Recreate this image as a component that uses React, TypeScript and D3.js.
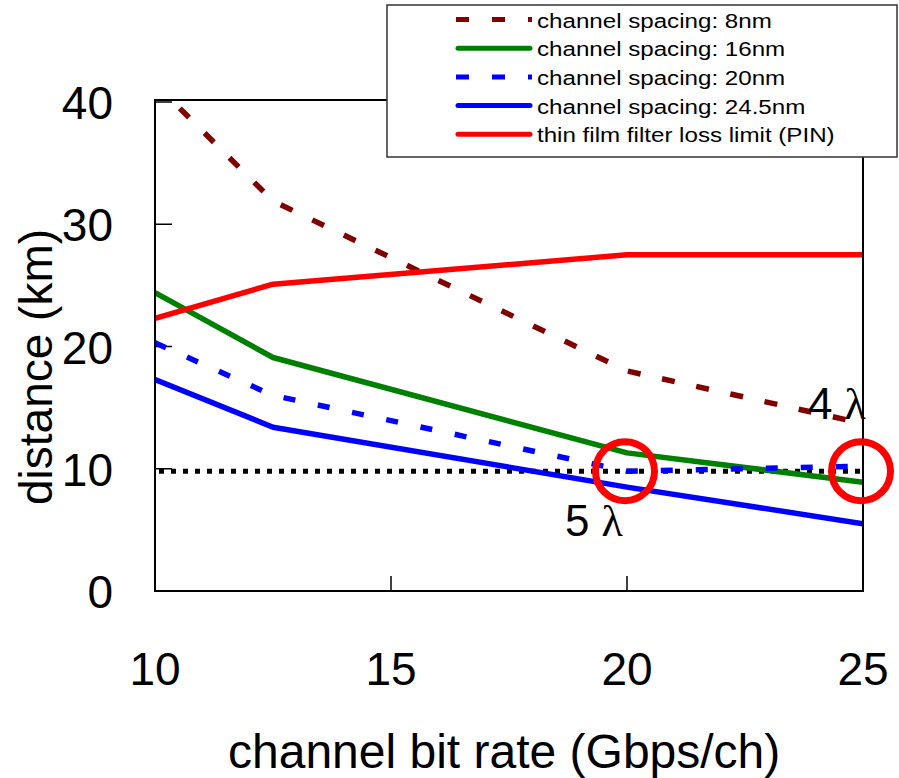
import React from "react";
import * as d3 from "d3";

const rates = [10, 12.5, 20, 25];
const spacing8 = [41.5, 31.9, 18.0, 13.7];
const spacing16 = [24.4, 19.1, 11.3, 8.9];
const spacing20 = [20.3, 16.0, 9.8, 10.2];
const spacing245 = [17.3, 13.4, 8.5, 5.5];
const filterLimit = [22.3, 25.1, 27.5, 27.5];
const reachLimit = 9.8;
const xTicks = [10, 15, 20, 25];
const yTicks = [0, 10, 20, 30, 40];
const circleMarks: [number, number][] = [[20, 9.8], [25, 9.8]];
const labels = [
  { x: 25, y: 9.8, text: "4", dx: -55, dy: -52 },
  { x: 20, y: 9.8, text: "5", dx: -62, dy: 65 },
];

const seriesDefs = [
  { name: "channel spacing: 8nm", values: spacing8, color: "#800000", dash: "13 22" },
  { name: "channel spacing: 16nm", values: spacing16, color: "#008000", dash: null },
  { name: "channel spacing: 20nm", values: spacing20, color: "#0000FF", dash: "12 23" },
  { name: "channel spacing: 24.5nm", values: spacing245, color: "#0000FF", dash: null },
  { name: "thin film filter loss limit (PIN)", values: filterLimit, color: "#FF0000", dash: null },
];

const W = 899;
const H = 778;
const L = 155, R = 863, T = 100, B = 591;
const FONT = "'Liberation Sans', Arial, Helvetica, sans-serif";

export default function App() {
  const x = d3.scaleLinear().domain([10, 25]).range([L, R]);
  const y = d3.scaleLinear().domain([0, 40]).range([B, 102]);
  const line = d3
    .line<number>()
    .x((_, i) => x(rates[i]))
    .y((v) => y(v));

  return (
    <svg
      width={W}
      height={H}
      style={{ position: "fixed", left: 0, top: 0, background: "#fff" }}
      fontFamily={FONT}
    >
      <defs>
        <clipPath id="plot">
          <rect x={L} y={T} width={R - L} height={B - T} />
        </clipPath>
      </defs>
      <rect x={0} y={0} width={W} height={H} fill="#fff" />

      {/* ticks */}
      {yTicks.map((t) => (
        <line key={"yt" + t} x1={L} x2={L + 17} y1={y(t)} y2={y(t)} stroke="#000" strokeWidth={1.5} />
      ))}
      {xTicks.map((t) => (
        <line key={"xt" + t} x1={x(t)} x2={x(t)} y1={B} y2={B - 15} stroke="#000" strokeWidth={1.5} />
      ))}

      <g clipPath="url(#plot)">
        {/* reach limit dotted */}
        <line
          x1={x(10) + 4}
          x2={x(25)}
          y1={y(reachLimit)}
          y2={y(reachLimit)}
          stroke="#000"
          strokeWidth={5}
          strokeDasharray="5 7"
        />
        {seriesDefs.map((s) => (
          <path
            key={s.name}
            d={line(s.values) || ""}
            fill="none"
            stroke={s.color}
            strokeWidth={5.5}
            strokeDasharray={s.dash || undefined}
            strokeLinejoin="round"
          />
        ))}
      </g>

      {/* frame */}
      <rect x={L} y={T} width={R - L} height={B - T} fill="none" stroke="#000" strokeWidth={2} />

      {/* circles */}
      {circleMarks.map(([cx, cy], i) => (
        <circle key={"c" + i} cx={x(cx) - 2} cy={y(cy)} r={29.5} fill="none" stroke="#FF0000" strokeWidth={7} />
      ))}

      {/* lambda labels */}
      {labels.map((l, i) => (
        <text key={"l" + i} x={x(l.x) + l.dx} y={y(l.y) + l.dy} fontSize={44} fill="#000">
          {l.text}
          <tspan fontFamily="'Liberation Serif', 'Times New Roman', serif" dx={12}>λ</tspan>
        </text>
      ))}

      {/* tick labels */}
      {yTicks.map((t) => (
        <text key={"yl" + t} x={113} y={y(t) + 17} fontSize={46} textAnchor="end" fill="#000">
          {t}
        </text>
      ))}
      {xTicks.map((t) => (
        <text key={"xl" + t} x={x(t)} y={685} fontSize={46} textAnchor="middle" fill="#000">
          {t}
        </text>
      ))}

      {/* axis titles */}
      <text x={228} y={768} fontSize={48} fill="#000">
        channel bit rate (Gbps/ch)
      </text>
      <text transform="translate(52,505) rotate(-90)" fontSize={46} fill="#000">
        distance (km)
      </text>

      {/* legend */}
      <rect x={387} y={5} width={510} height={152} fill="#fff" stroke="#333" strokeWidth={1.5} />
      {seriesDefs.map((s, i) => {
        const ly = 19.5 + i * 28.7;
        return (
          <g key={"lg" + i}>
            <line
              x1={s.dash ? 456 : 458}
              x2={s.dash ? 532 : 530}
              y1={ly}
              y2={ly}
              stroke={s.color}
              strokeWidth={5}
              strokeLinecap={s.dash ? "butt" : "round"}
              strokeDasharray={s.dash ? "13 23" : undefined}
            />
            <text transform={`translate(537,${ly + 8}) scale(1.15,1)`} fontSize={21} fill="#000">
              {s.name}
            </text>
          </g>
        );
      })}
    </svg>
  );
}
